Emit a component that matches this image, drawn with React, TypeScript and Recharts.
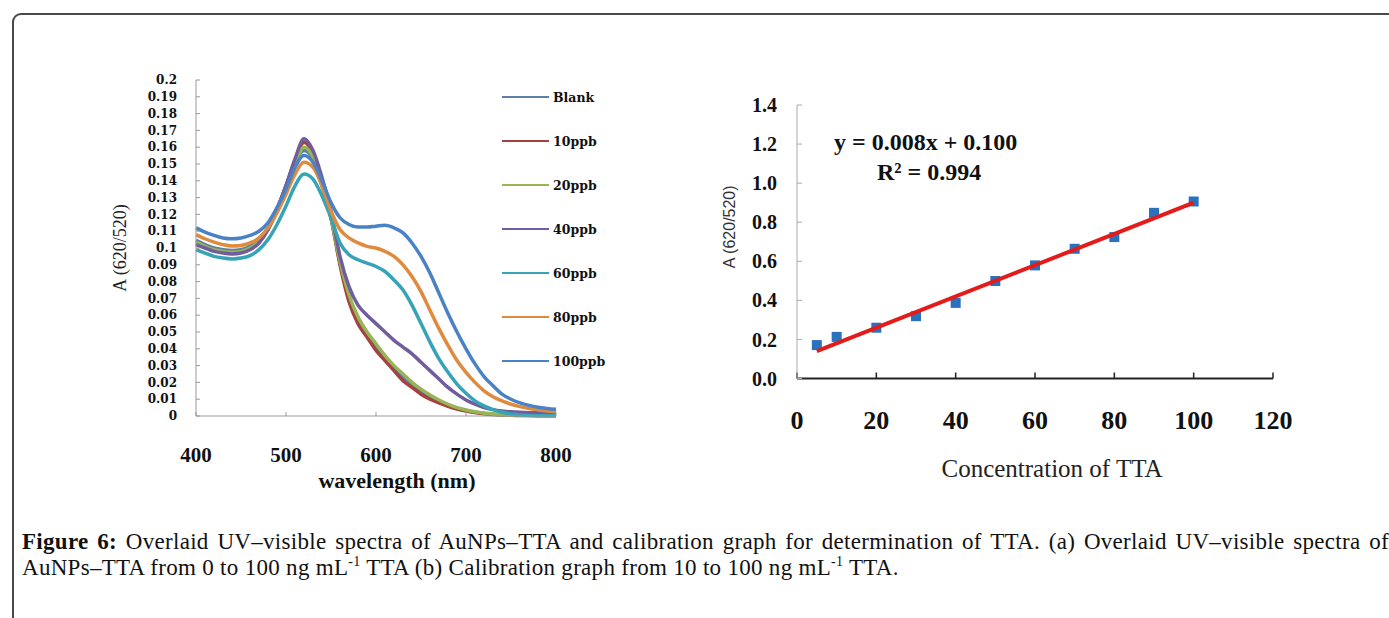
import React from 'react';
import { LineChart, Line, XAxis, YAxis, Legend, Label, ScatterChart, Scatter } from 'recharts';

// (a) UV-visible spectra, every 10 nm
const wavelengths = [
  400, 410, 420, 430, 440, 450, 460, 470, 480, 490, 500, 510, 520, 530, 540, 550, 560, 570, 580, 590, 600,
  610, 620, 630, 640, 650, 660, 670, 680, 690, 700, 710, 720, 730, 740, 750, 760, 770, 780, 790, 800,
];
const blankA = [
  0.1045, 0.102, 0.1, 0.099, 0.0985, 0.099, 0.101, 0.105, 0.112, 0.123, 0.137, 0.151, 0.158, 0.153, 0.137, 0.118,
  0.091, 0.07, 0.057, 0.049, 0.041, 0.0345, 0.0285, 0.023, 0.0185, 0.0145, 0.011, 0.0085, 0.0064, 0.0046, 0.0033,
  0.0023, 0.0016, 0.0011, 0.0008, 0.0006, 0.0005, 0.0004, 0.0004, 0.0004, 0.0004,
];
const ppb10 = [
  0.1025, 0.1005, 0.0985, 0.0975, 0.097, 0.0975, 0.0995, 0.1035, 0.111, 0.123, 0.137, 0.152, 0.163, 0.156, 0.138,
  0.118, 0.09, 0.068, 0.055, 0.047, 0.039, 0.033, 0.027, 0.021, 0.017, 0.013, 0.01, 0.0078, 0.0058, 0.0042, 0.003,
  0.0021, 0.0014, 0.0009, 0.0006, 0.0004, 0.0003, 0.0003, 0.0002, 0.0002, 0.0002,
];
const ppb20 = [
  0.1035, 0.101, 0.099, 0.098, 0.0975, 0.098, 0.1, 0.104, 0.111, 0.122, 0.136, 0.15, 0.16, 0.154, 0.137, 0.118,
  0.092, 0.072, 0.059, 0.05, 0.043, 0.036, 0.03, 0.025, 0.02, 0.016, 0.0125, 0.0095, 0.007, 0.005, 0.0036, 0.0025,
  0.0017, 0.0012, 0.0008, 0.0006, 0.0005, 0.0004, 0.0004, 0.0004, 0.0004,
];
const ppb40 = [
  0.102, 0.1, 0.098, 0.097, 0.0965, 0.097, 0.099, 0.103, 0.111, 0.123, 0.137, 0.153, 0.165, 0.158, 0.142, 0.122,
  0.095, 0.077, 0.066, 0.06, 0.055, 0.05, 0.045, 0.041, 0.037, 0.032, 0.027, 0.022, 0.017, 0.013, 0.0095, 0.007,
  0.005, 0.0038, 0.003, 0.0025, 0.0022, 0.002, 0.0019, 0.0018, 0.0018,
];
const ppb60 = [
  0.099, 0.097, 0.095, 0.094, 0.0935, 0.094, 0.0955, 0.099, 0.105, 0.114, 0.125, 0.137, 0.144, 0.141, 0.131, 0.118,
  0.103, 0.096, 0.093, 0.091, 0.089, 0.086, 0.081, 0.075, 0.066, 0.055, 0.044, 0.034, 0.026, 0.019, 0.0135, 0.009,
  0.006, 0.0038, 0.0022, 0.0012, 0.0006, 0.0003, 0.0002, 0.0002, 0.0002,
];
const ppb80 = [
  0.108, 0.1055, 0.1035, 0.102, 0.1012, 0.1015, 0.103, 0.106, 0.112, 0.121, 0.132, 0.144, 0.151, 0.148, 0.137, 0.122,
  0.111, 0.106, 0.103, 0.101, 0.1, 0.098, 0.095, 0.09, 0.083, 0.074, 0.063, 0.052, 0.042, 0.033, 0.026, 0.02, 0.015,
  0.0115, 0.009, 0.007, 0.0056, 0.0045, 0.0037, 0.003, 0.0026,
];
const ppb100 = [
  0.112, 0.1095, 0.1075, 0.106, 0.1055, 0.106, 0.1075, 0.11, 0.115, 0.124, 0.135, 0.148, 0.155, 0.151, 0.14, 0.127,
  0.118, 0.114, 0.1125, 0.1125, 0.113, 0.1135, 0.112, 0.109, 0.103, 0.095, 0.085, 0.073, 0.061, 0.05, 0.04, 0.031,
  0.0235, 0.018, 0.013, 0.01, 0.0078, 0.0063, 0.0052, 0.0045, 0.004,
];

const spectraSeries = [
  { key: 'blank', name: 'Blank', color: '#5b7fa6', values: blankA },
  { key: 'p10', name: '10ppb', color: '#a4423f', values: ppb10 },
  { key: 'p20', name: '20ppb', color: '#97b555', values: ppb20 },
  { key: 'p40', name: '40ppb', color: '#725d9c', values: ppb40 },
  { key: 'p60', name: '60ppb', color: '#36a3b7', values: ppb60 },
  { key: 'p80', name: '80ppb', color: '#e08a3e', values: ppb80 },
  { key: 'p100', name: '100ppb', color: '#4a82c6', values: ppb100 },
];

const spectraData = wavelengths.map((w, i) => {
  const row: Record<string, number> = { w };
  spectraSeries.forEach((s) => {
    row[s.key] = s.values[i];
  });
  return row;
});

const wavelengthTicks = [400, 500, 600, 700, 800];
const absTicks = [
  0, 0.01, 0.02, 0.03, 0.04, 0.05, 0.06, 0.07, 0.08, 0.09, 0.1, 0.11, 0.12, 0.13, 0.14, 0.15, 0.16, 0.17, 0.18, 0.19,
  0.2,
];

// (b) calibration graph
const concentrations = [5, 10, 20, 30, 40, 50, 60, 70, 80, 90, 100];
const ratios = [0.171, 0.213, 0.26, 0.319, 0.387, 0.499, 0.579, 0.664, 0.724, 0.848, 0.906];
const fitX = [5, 100];
const fitY = [0.14, 0.9];
const concTicks = [0, 20, 40, 60, 80, 100, 120];
const ratioTicks = [0, 0.2, 0.4, 0.6, 0.8, 1.0, 1.2, 1.4];

const calibData = concentrations.map((x, i) => ({ x, y: ratios[i] }));
const fitData = fitX.map((x, i) => ({ x, y: fitY[i] }));

const serif = '"Liberation Serif", "Times New Roman", serif';
const wideSerif = '"DejaVu Serif", serif';

const title = (text: string, place: (vb: any) => [number, number], style: React.CSSProperties, angle = 0) =>
  (props: any) => {
    const [x, y] = place(props.viewBox);
    return (
      <text
        x={x}
        y={y}
        transform={angle ? `rotate(${angle} ${x} ${y})` : undefined}
        textAnchor="middle"
        dominantBaseline="central"
        style={style}
      >
        {text}
      </text>
    );
  };

function SpectraLegend({ payload }: any) {
  const items = [...(payload || [])].sort(
    (a: any, b: any) =>
      spectraSeries.findIndex((s) => s.name === a.value) - spectraSeries.findIndex((s) => s.name === b.value),
  );
  return (
    <div>
      {items.map((entry: any) => (
        <div key={entry.value} style={{ display: 'flex', alignItems: 'center', height: 44 }}>
          <svg width={48} height={4}>
            <line x1={0} y1={2} x2={47} y2={2} stroke={entry.color} strokeWidth={2} />
          </svg>
          <span
            style={{ marginLeft: 3, fontFamily: wideSerif, fontWeight: 'bold', fontSize: 12.5, color: '#111' }}
          >
            {entry.value}
          </span>
        </div>
      ))}
    </div>
  );
}

const Square = (props: any) => {
  const { cx, cy } = props;
  if (cx == null || cy == null) return <g />;
  return <rect x={cx - 5} y={cy - 5} width={10} height={10} fill="#2a72be" />;
};

export default function App() {
  return (
    <div
      style={{ position: 'absolute', left: 0, top: 0, width: 1389, height: 618, background: '#fff', overflow: 'hidden' }}
    >
      <div
        style={{
          position: 'absolute',
          left: 12,
          top: 13,
          width: 1420,
          height: 700,
          border: '2px solid #4a4a4a',
          borderRadius: 9,
          boxSizing: 'border-box',
        }}
      />

      {/* (a) spectra */}
      <div style={{ position: 'absolute', left: 0, top: 0, width: 700, height: 500 }}>
        <LineChart width={700} height={500} data={spectraData} margin={{ top: 80, right: 144, bottom: 24, left: 136 }}>
          <XAxis
            dataKey="w"
            type="number"
            domain={[400, 800]}
            ticks={wavelengthTicks}
            height={60}
            axisLine={{ stroke: '#999' }}
            tickLine={{ stroke: '#999' }}
            tickSize={-4}
            tickMargin={35}
            tick={{ fill: '#111', fontFamily: serif, fontWeight: 'bold', fontSize: 21 }}
          >
            <Label
              content={title('wavelength (nm)', (vb) => [vb.x + vb.width / 2 + 21, vb.y + 64], {
                fontFamily: serif,
                fontWeight: 'bold',
                fontSize: 22,
                fill: '#111',
              })}
            />
          </XAxis>
          <YAxis
            type="number"
            domain={[0, 0.2]}
            ticks={absTicks}
            interval={0}
            width={60}
            axisLine={{ stroke: '#999' }}
            tickLine={{ stroke: '#999' }}
            tickSize={-4}
            tickMargin={23}
            tickFormatter={(v: number) => String(v)}
            tick={{ fill: '#111', fontFamily: wideSerif, fontWeight: 'bold', fontSize: 12 }}
          >
            <Label
              content={title(
                'A (620/520)',
                (vb) => [vb.x - 16, vb.y + vb.height / 2],
                { fontFamily: serif, fontSize: 18, fill: '#222' },
                -90,
              )}
            />
          </YAxis>
          <Legend
            layout="vertical"
            align="center"
            verticalAlign="middle"
            wrapperStyle={{ left: 502, top: 75, width: 130 }}
            content={<SpectraLegend />}
          />
          {spectraSeries.map((s) => (
            <Line
              key={s.key}
              dataKey={s.key}
              name={s.name}
              type="monotone"
              stroke={s.color}
              strokeWidth={3.5}
              dot={false}
              isAnimationActive={false}
            />
          ))}
        </LineChart>
      </div>

      {/* (b) calibration */}
      <div style={{ position: 'absolute', left: 680, top: 60, width: 700, height: 430 }}>
        <ScatterChart width={700} height={430} margin={{ top: 45, right: 107, bottom: 31.5, left: 57 }}>
          <XAxis
            dataKey="x"
            type="number"
            domain={[0, 120]}
            ticks={concTicks}
            height={80}
            axisLine={{ stroke: '#222', strokeWidth: 2 }}
            tickLine={{ stroke: '#222', strokeWidth: 1.5 }}
            tickSize={-6}
            tickMargin={38}
            tick={{ fill: '#111', fontFamily: serif, fontWeight: 'bold', fontSize: 26 }}
          >
            <Label
              content={title('Concentration of TTA', (vb) => [vb.x + vb.width / 2 + 17, vb.y + 90], {
                fontFamily: serif,
                fontSize: 25,
                fill: '#222',
              })}
            />
          </XAxis>
          <YAxis
            dataKey="y"
            type="number"
            domain={[0, 1.4]}
            ticks={ratioTicks}
            interval={0}
            width={60}
            axisLine={{ stroke: '#aaa' }}
            tickLine={{ stroke: '#aaa' }}
            tickSize={-5}
            tickMargin={25}
            tickFormatter={(v: number) => v.toFixed(1)}
            tick={{ fill: '#111', fontFamily: serif, fontWeight: 'bold', fontSize: 20 }}
          >
            <Label
              content={title(
                'A (620/520)',
                (vb) => [vb.x - 8, vb.y + vb.height / 2 - 15],
                { fontFamily: '"Liberation Sans", Arial, sans-serif', fontSize: 16, fill: '#333' },
                -90,
              )}
            />
          </YAxis>
          <Scatter data={calibData} shape={<Square />} isAnimationActive={false} />
          <Scatter
            data={fitData}
            line={{ stroke: '#e41b1b', strokeWidth: 4 }}
            shape={() => <g />}
            isAnimationActive={false}
          />
        </ScatterChart>
      </div>

      <div
        style={{
          position: 'absolute',
          left: 834,
          top: 128,
          fontFamily: serif,
          fontWeight: 'bold',
          fontSize: 24,
          lineHeight: '28px',
          color: '#111',
          whiteSpace: 'nowrap',
        }}
      >
        y = 0.008x + 0.100
      </div>
      <div
        style={{
          position: 'absolute',
          left: 877,
          top: 158,
          fontFamily: serif,
          fontWeight: 'bold',
          fontSize: 24,
          lineHeight: '28px',
          color: '#111',
          whiteSpace: 'nowrap',
        }}
      >
        R² = 0.994
      </div>

      <div
        style={{
          position: 'absolute',
          left: 22,
          top: 529,
          width: 1367,
          fontFamily: serif,
          fontSize: 23,
          letterSpacing: 0.3,
          lineHeight: '26px',
          color: '#111',
        }}
      >
        <div style={{ textAlign: 'justify', textAlignLast: 'justify', whiteSpace: 'nowrap' }}>
          <b>Figure 6:</b> Overlaid UV–visible spectra of AuNPs–TTA and calibration graph for determination of TTA. (a)
          Overlaid UV–visible spectra of
        </div>
        <div>
          AuNPs–TTA from 0 to 100 ng mL<sup style={{ fontSize: 14, lineHeight: 0 }}>-1</sup> TTA (b) Calibration graph
          from 10 to 100 ng mL<sup style={{ fontSize: 14, lineHeight: 0 }}>-1</sup> TTA.
        </div>
      </div>
    </div>
  );
}
